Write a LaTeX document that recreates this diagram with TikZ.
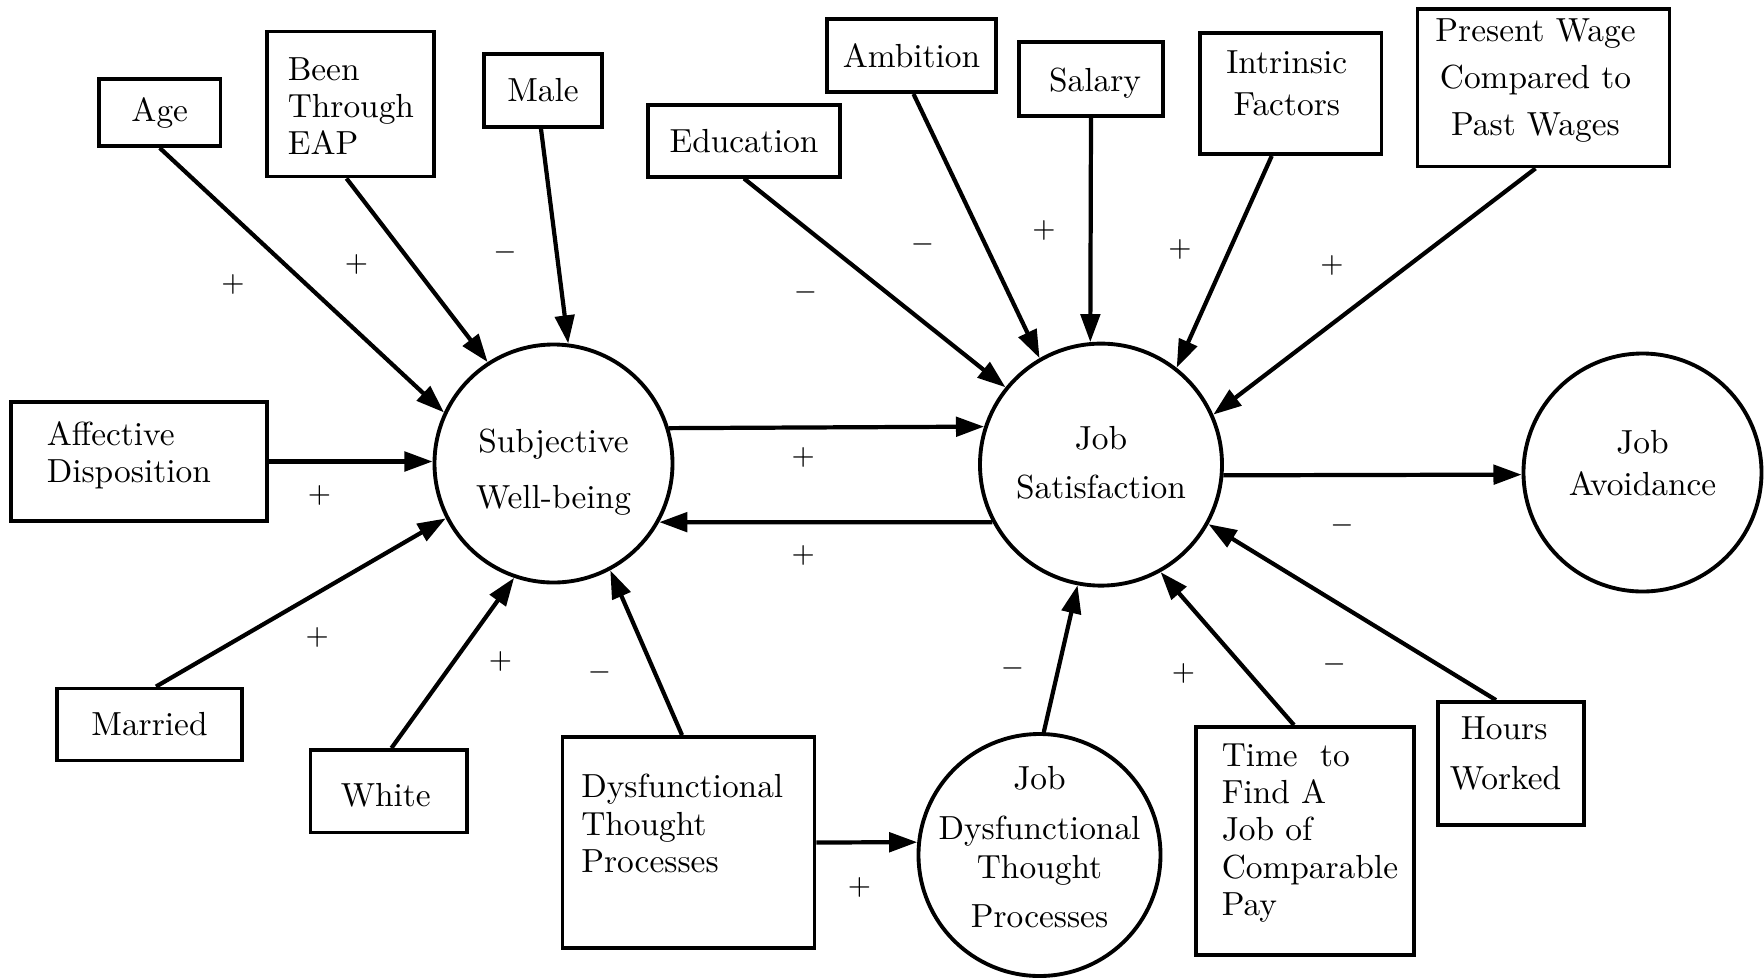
\documentclass[tikz,border=0pt]{standalone}
\usetikzlibrary{arrows.meta,calc}
\begin{document}
\begin{tikzpicture}[x=0.1mm,y=-0.1mm,
  txt/.style={font=\fontsize{9.5}{10.6}\selectfont, inner sep=0pt},
  box/.style={draw, line width=1.1pt, rectangle, inner sep=0pt, txt},
  var/.style={draw, circle, line width=1.1pt, inner sep=0pt},
  arr/.style={line width=1.2pt, -{Triangle[length=8pt,width=5.5pt]}},
  sign/.style={font=\fontsize{8.5}{9}\selectfont, inner sep=0pt}]
\useasboundingbox (0,0) rectangle (1764,980);
\fill[white] (0,0) rectangle (1764,980);

% circles
\node[var, minimum size=23.8mm, label={[txt, align=center, yshift=-0.9mm]center:Subjective\\[5.3pt]Well-being}] (swb) at (553.5,463.5) {};
\node[var, minimum size=24.2mm, label={[txt, align=center, yshift=0.2mm]center:Job\\[3.5pt]Satisfaction}] (js) at (1101,464.6) {};
\node[var, minimum size=23.8mm, label={[txt, align=center, yshift=0.96mm]center:Job\\[1.2pt]Avoidance}] (ja) at (1642.5,472.5) {};
\node[var, minimum size=24.2mm, label={[txt, align=center, yshift=0.8mm]center:Job\\[3.5pt]Dysfunctional\\[0.6pt]Thought\\[3.2pt]Processes}] (jdtp) at (1039.5,855) {};

% boxes
\node[box, minimum width=12.15mm, minimum height=6.7mm] (age) at (159.75,112.5) {Age};
\node[box, minimum width=16.74mm, minimum height=14.5mm, label={[txt, align=left, anchor=west, xshift=2.24mm, yshift=-0.2mm]west:Been\\Through\\EAP}] (eap) at (350.3,104) {};
\node[box, minimum width=11.8mm, minimum height=7.3mm] (male) at (543,90.5) {Male};
\node[box, minimum width=25.56mm, minimum height=11.9mm, label={[txt, align=left, anchor=west, xshift=3.7mm, yshift=0.62mm]west:Affective\\Disposition}] (aff) at (138.8,461.5) {};
\node[box, minimum width=18.5mm, minimum height=7.2mm] (married) at (149.5,724.5) {Married};
\node[box, minimum width=15.65mm, minimum height=8.25mm, label={[txt, yshift=-0.45mm, xshift=-0.3mm]center:White}] (white) at (388.75,791.25) {};
\node[box, minimum width=25.2mm, minimum height=21.1mm, label={[txt, align=left, anchor=west, xshift=2.0mm, yshift=1.9mm]west:Dysfunctional\\Thought\\Processes}] (dysf) at (688.5,842.5) {};
\node[box, minimum width=19.2mm, minimum height=7.2mm] (edu) at (744,140.6) {Education};
\node[box, minimum width=16.9mm, minimum height=7.3mm] (amb) at (911.5,55.5) {Ambition};
\node[box, minimum width=14.4mm, minimum height=7.44mm, label={[txt, yshift=-0.4mm, xshift=0.4mm]center:Salary}] (sal) at (1091,78.8) {};
\node[box, minimum width=18.15mm, minimum height=12.14mm, label={[txt, align=center, yshift=1.0mm, xshift=-0.4mm]center:Intrinsic\\[1.6pt]Factors}] (intr) at (1290.75,93.3) {};
\node[box, minimum width=25.2mm, minimum height=15.75mm, label={[txt, align=center, yshift=0.73mm, xshift=-0.8mm]center:Present Wage\\[2.7pt]Compared to\\[2.7pt]Past Wages}] (pres) at (1543.5,87.75) {};
\node[box, minimum width=21.8mm, minimum height=22.8mm, label={[txt, align=left, anchor=west, xshift=2.7mm, yshift=0.8mm]west:Time\ \ to\\Find\ A\\Job of\\Comparable\\Pay}] (time) at (1305,841) {};
\node[box, minimum width=14.6mm, minimum height=12.26mm, label={[txt, align=left, anchor=west, xshift=1.3mm, yshift=0.96mm]west:\ Hours\\[3.5pt]Worked}] (hours) at (1511,763.3) {};

% arrows into Subjective Well-being
\draw[arr] (age.south) -- (swb.155.6);
\draw[arr] ([xshift=-0.38mm]eap.south) -- (swb.123);
\draw[arr] ([xshift=-0.2mm]male.south) -- (swb.83.7);
\draw[arr] (aff.east) -- (aff.east -| swb.west);
\draw[arr] ([xshift=0.65mm]married.north) -- (swb.207.3);
\draw[arr] ([xshift=0.27mm]white.north) -- (swb.251.1);
\draw[arr] ([xshift=-0.65mm]dysf.north) -- (swb.298.6);
\draw[arr] (dysf.east) -- (jdtp.174.1);
\draw[arr] (swb.17.6) -- (js.162.15);
\draw[arr] (js.208.3) -- (swb.-29.4);

% arrows into Job Satisfaction
\draw[arr] (edu.south) -- (js.141.5);
\draw[arr] ([xshift=0.2mm]amb.south) -- (js.120.1);
\draw[arr] (sal.south) -- (js.95.7);
\draw[arr] ([xshift=-1.9mm]intr.south) -- (js.52.3);
\draw[arr] ([xshift=-0.8mm]pres.south) -- (js.24.2);
\draw[arr] (js.-5.4) -- (ja.181.7);
\draw[arr] (jdtp.88.3) -- (js.259.1);
\draw[arr] ([xshift=-1.1mm]time.north) -- (js.299.1);
\draw[arr] ([xshift=-1.5mm]hours.north) -- (js.331.5);

% signs
\node[sign] (s1) at (232.9,284.6) {$+$};
\node[sign] (s2) at (356.6,264.4) {$+$};
\node[sign] (s3) at (505.1,252) {$-$};
\node[sign] (s4) at (319.5,495) {$+$};
\node[sign] (s5) at (317.25,637.9) {$+$};
\node[sign] (s6) at (500.6,661.5) {$+$};
\node[sign] (s7) at (599.6,672.75) {$-$};
\node[sign] (s8) at (859.5,887.6) {$+$};
\node[sign] (s9) at (803.25,457.9) {$+$};
\node[sign] (s10) at (803.25,555.75) {$+$};
\node[sign] (s11) at (805.5,292.5) {$-$};
\node[sign] (s12) at (922.5,244.1) {$-$};
\node[sign] (s13) at (1044,230.6) {$+$};
\node[sign] (s14) at (1180.1,249.75) {$+$};
\node[sign] (s15) at (1332,265.5) {$+$};
\node[sign] (s16) at (1342.1,525.4) {$-$};
\node[sign] (s17) at (1012.5,668.25) {$-$};
\node[sign] (s18) at (1183.5,673.9) {$+$};
\node[sign] (s19) at (1334.25,664.9) {$-$};
\end{tikzpicture}
\end{document}
